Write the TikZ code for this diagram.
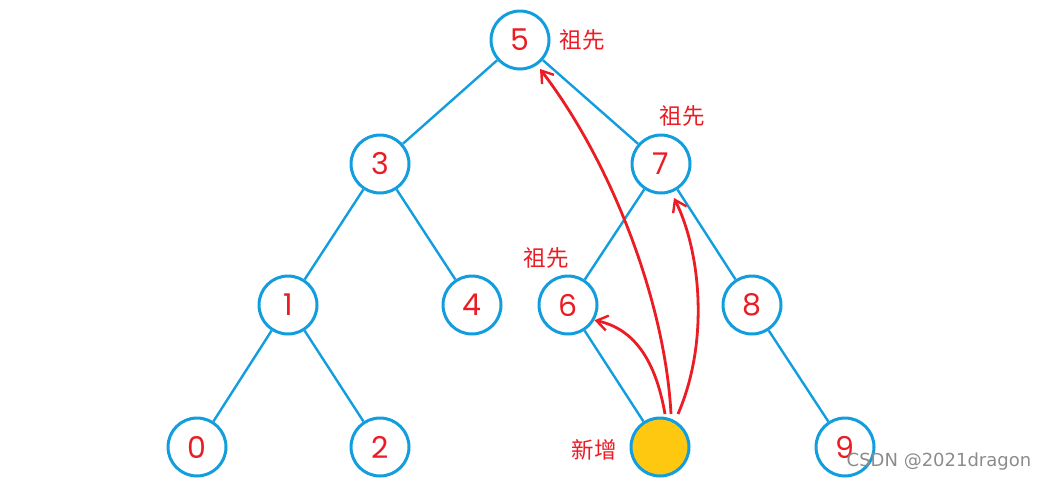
\documentclass[tikz,border=0pt]{standalone}
\usepackage{fontspec}
\setmainfont{Poppins}
\newfontfamily\cjk{Noto Sans CJK SC}
\newfontfamily\wm{DejaVu Sans}
\usetikzlibrary{arrows.meta}
\definecolor{tblue}{RGB}{18,158,222}
\definecolor{tred}{RGB}{236,28,36}
\definecolor{tyel}{RGB}{255,200,16}
\tikzset{
  tn/.style={circle, draw=tblue, line width=3pt, minimum size=58pt, inner sep=0pt, fill=white,
    text=tred, font=\fontsize{30}{30}\selectfont},
  newn/.style={tn, fill=tyel},
  edge/.style={draw=tblue, line width=2.4pt},
  lab/.style={text=tred, font=\cjk\fontsize{22.5}{22.5}\selectfont, inner sep=0pt},
  arr/.style={draw=tred, line width=2.8pt, -{Straight Barb[length=11pt,width=15pt,line width=2.4pt]}},
}
\begin{document}
\begin{tikzpicture}[x=1pt,y=-1pt]
\useasboundingbox (0,0) rectangle (1044,483);
\node[tn] (n5) at (520,40) {5};
\node[tn] (n3) at (380,164) {3};
\node[tn] (n7) at (661,164) {7};
\node[tn] (n1) at (288,305) {1};
\node[tn] (n4) at (472,305) {4};
\node[tn] (n6) at (568,305) {6};
\node[tn] (n8) at (752,305) {8};
\node[tn] (n0) at (197,447) {0};
\node[tn] (n2) at (380,447) {2};
\node[newn] (nn) at (660,447) {};
\node[tn] (n9) at (845,447) {9};
\draw[edge] (n5) -- (n3);
\draw[edge] (n5) -- (n7);
\draw[edge] (n3) -- (n1);
\draw[edge] (n3) -- (n4);
\draw[edge] (n7) -- (n6);
\draw[edge] (n7) -- (n8);
\draw[edge] (n1) -- (n0);
\draw[edge] (n1) -- (n2);
\draw[edge] (n6) -- (nn);
\draw[edge] (n8) -- (n9);
\node[lab] (l5) at (582,40) {祖先};
\node[lab] (l7) at (682,116) {祖先};
\node[lab] (l6) at (546,258) {祖先};
\node[lab] (ln) at (594,450) {新增};
\coordinate (s1) at (665,414);
\coordinate (s2) at (671,414);
\coordinate (s3) at (678,414);
\coordinate (e5) at (540,69);
\coordinate (e7) at (674,198);
\draw[arr] (s1) to[out=100,in=-12] (n6.-30);
\draw[arr] (s2) .. controls (665,300) and (610,160) .. (e5);
\draw[arr] (s3) .. controls (710,340) and (700,250) .. (e7);
\node[text=black!45, font=\wm\fontsize{18}{18}\selectfont, inner sep=0pt] (wm) at (939,462) {CSDN @2021dragon};
\end{tikzpicture}
\end{document}
